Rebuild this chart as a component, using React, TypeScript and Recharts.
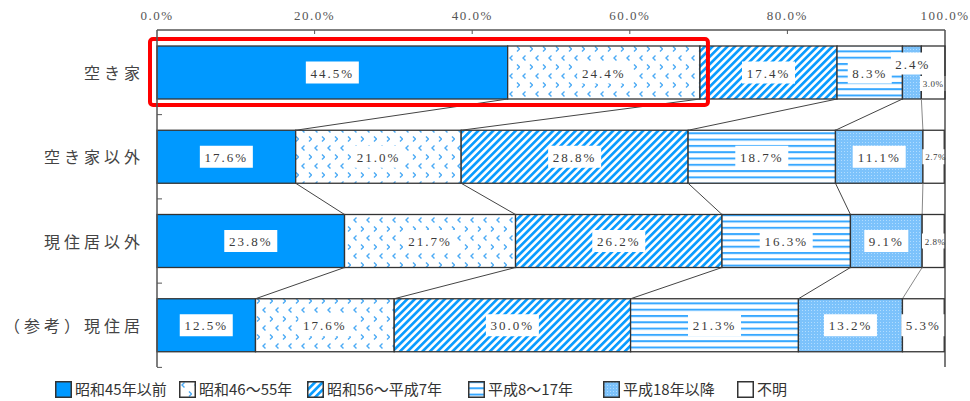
import React from 'react';
import { BarChart, Bar, XAxis, YAxis, ReferenceLine } from 'recharts';

// 建築時期別の割合 (%)
const categories = ['空き家', '空き家以外', '現住居以外', '（参考）現住居'];
const seriesNames = ['昭和45年以前', '昭和46～55年', '昭和56～平成7年', '平成8～17年', '平成18年以降', '不明'];
const showa45 = [44.5, 17.6, 23.8, 12.5];
const showa46 = [24.4, 21.0, 21.7, 17.6];
const showa56 = [17.4, 28.8, 26.2, 30.0];
const heisei8 = [8.3, 18.7, 16.3, 21.3];
const heisei18 = [2.4, 11.1, 9.1, 13.2];
const unknown = [3.0, 2.7, 2.8, 5.3];
const xTicks = [0, 20, 40, 60, 80, 100];

const seriesValues = [showa45, showa46, showa56, heisei8, heisei18, unknown];
const keys = ['s0', 's1', 's2', 's3', 's4', 's5'];
const fills = ['#0099ff', 'url(#pt46)', 'url(#pt56)', 'url(#ptH8)', 'url(#ptH18)', '#ffffff'];

const data = categories.map((name, i) => {
  const row: any = { name };
  keys.forEach((k, j) => (row[k] = seriesValues[j][i]));
  return row;
});

const CHART_W = 970;
const CHART_H = 372;
const MARGIN = { top: 0, right: 25, bottom: 5, left: 0 };
const X_AXIS_H = 30;
const PLOT_TOP = MARGIN.top + X_AXIS_H;
const PLOT_BOTTOM = CHART_H - MARGIN.bottom;
const BAND = (PLOT_BOTTOM - PLOT_TOP) / categories.length;
const BAR_SIZE = 53;

// legend item left edges (layout only)
const legendLefts = [55, 179, 307, 468, 603, 737];

// label tweaks for the narrow segments (row-series)
const labelTweaks: Record<string, { dx?: number; dy?: number; small?: boolean }> = {
  '0-4': { dx: 1, dy: -9 },
  '0-5': { dx: 0, dy: 11, small: true },
  '1-5': { dx: 2, small: true },
  '2-5': { dx: 2, small: true },
};

const EDGE = '#333';
const numFont = '"Liberation Serif", "DejaVu Serif", serif';
const jpFont = '"Noto Sans CJK JP", "Noto Sans", sans-serif';

const Segment = (props: any) => {
  const { x, y, width, height, fill } = props;
  return <rect x={x} y={y} width={width} height={height} fill={fill} stroke={EDGE} strokeWidth={1.3} />;
};

const ValueLabel = ({ cx, cy, text, small }: any) => {
  const w = small ? text.length * 5.6 + 4 : text.length * 9 + 8;
  const h = small ? 15 : 22;
  return (
    <g>
      <rect x={cx - w / 2} y={cy - h / 2} width={w} height={h} fill="#fff" />
      <text
        x={cx}
        y={cy + 0.5}
        textAnchor="middle"
        dominantBaseline="central"
        fontFamily={numFont}
        fontSize={small ? 9 : 13}
        letterSpacing={small ? 0.5 : 2}
        fill="#3a3a3a"
      >
        {text}
      </text>
    </g>
  );
};

// last series: draws its own rect plus the row's labels, connectors and the highlight box
const LastSegment = (props: any) => {
  const { x, y, width, height, index } = props;
  const vals = seriesValues.map((s) => s[index]);
  const ppu = width / vals[5];
  const cum: number[] = [];
  vals.reduce((acc, v) => {
    cum.push(acc + v);
    return acc + v;
  }, 0);
  const x0 = x - cum[4] * ppu;
  const gap = BAND - height;
  const next = index < categories.length - 1 ? seriesValues.map((s) => s[index + 1]) : null;
  const cumNext: number[] = [];
  if (next) {
    next.reduce((acc, v) => {
      cumNext.push(acc + v);
      return acc + v;
    }, 0);
  }
  return (
    <g>
      <rect x={x} y={y} width={width} height={height} fill="#fff" stroke={EDGE} strokeWidth={1.3} />
      <line x1={x0} x2={x0 + 5} y1={y + height + gap / 2} y2={y + height + gap / 2} stroke="#555" strokeWidth={1} />
      {next &&
        cum.slice(0, 5).map((c, k) => (
          <line
            key={k}
            x1={x0 + c * ppu}
            y1={y + height}
            x2={x0 + cumNext[k] * ppu}
            y2={y + BAND}
            stroke={k === 4 ? '#888' : '#444'}
            strokeWidth={1}
          />
        ))}
      {vals.map((v, k) => {
        const t = labelTweaks[`${index}-${k}`] || {};
        const cx = x0 + (cum[k] - v / 2) * ppu + (t.dx || 0);
        const cy = y + height / 2 + (t.dy || 0);
        return <ValueLabel key={k} cx={cx} cy={cy} text={`${v.toFixed(1)}%`} small={t.small} />;
      })}
      {index === 0 && (
        <rect
          x={x0 - 7}
          y={y - 7}
          width={cum[1] * ppu + 15}
          height={height + 13}
          rx={3}
          fill="none"
          stroke="#ff0000"
          strokeWidth={4}
        />
      )}
    </g>
  );
};

const XTick = (props: any) => {
  const { x, payload } = props;
  return (
    <g>
      <text
        x={x}
        y={15}
        textAnchor="middle"
        dominantBaseline="central"
        fontFamily={numFont}
        fontSize={13}
        letterSpacing={1.5}
        fill="#555"
      >
        {`${payload.value.toFixed(1)}%`}
      </text>
      {payload.value > 0 && payload.value < 100 && (
        <line x1={x} x2={x} y1={PLOT_TOP} y2={PLOT_TOP + 4} stroke="#555" strokeWidth={1} />
      )}
    </g>
  );
};

const YTick = (props: any) => {
  const { y, payload } = props;
  return (
    <text
      x={144}
      y={y}
      textAnchor="end"
      dominantBaseline="central"
      fontFamily={jpFont}
      fontSize={16}
      letterSpacing={4}
      fill="#444"
    >
      {payload.value}
    </text>
  );
};

const Patterns = () => (
  <svg width={0} height={0} style={{ position: 'absolute' }}>
    <defs>
      <pattern id="pt46" patternUnits="userSpaceOnUse" width={13} height={18}>
        <rect width={13} height={18} fill="#fff" />
        <path d="M5.5,1.5 L3,4 L5.5,6.5" fill="none" stroke="#4aaaf5" strokeWidth={1.4} />
        <path d="M10,10.5 L12.5,13 L10,15.5" fill="none" stroke="#4aaaf5" strokeWidth={1.4} />
      </pattern>
      <pattern id="pt56" patternUnits="userSpaceOnUse" width={5.3} height={5.3} patternTransform="rotate(45)">
        <rect width={5.3} height={5.3} fill="#fff" />
        <rect width={2.7} height={5.3} fill="#0a9cff" />
      </pattern>
      <pattern id="ptH8" patternUnits="userSpaceOnUse" width={8} height={6.3}>
        <rect width={8} height={6.3} fill="#fff" />
        <rect y={0} width={8} height={2} fill="#38a8ff" />
      </pattern>
      <pattern id="ptH18" patternUnits="userSpaceOnUse" width={3} height={3}>
        <rect width={3} height={3} fill="#7cc2fb" />
        <rect x={1} y={1} width={1} height={1} fill="#b0dcff" />
      </pattern>
    </defs>
  </svg>
);

const LegendRow = () => (
  <div style={{ position: 'absolute', left: 0, top: 378, width: 970, height: 22, fontFamily: jpFont, fontSize: 15, color: '#333' }}>
    {seriesNames.map((n, i) => (
      <div
        key={n}
        style={{ position: 'absolute', left: legendLefts[i], top: 0, display: 'flex', alignItems: 'center', whiteSpace: 'nowrap', height: 22 }}
      >
        <svg width={17} height={17} style={{ marginRight: 3, flex: 'none' }}>
          <rect x={0.75} y={0.75} width={15.5} height={15.5} fill={fills[i]} stroke={EDGE} strokeWidth={1.5} />
        </svg>
        <span style={{ lineHeight: '22px' }}>{n}</span>
      </div>
    ))}
  </div>
);

export default function App() {
  return (
    <div style={{ position: 'absolute', left: 0, top: 0, width: 970, height: 401, background: '#fff', overflow: 'hidden' }}>
      <Patterns />
      <BarChart width={CHART_W} height={CHART_H} data={data} layout="vertical" margin={MARGIN}>
        <XAxis
          type="number"
          orientation="top"
          domain={[0, 100]}
          ticks={xTicks}
          height={X_AXIS_H}
          tick={<XTick />}
          tickLine={false}
          axisLine={{ stroke: '#555', strokeWidth: 1.5 }}
          interval={0}
        />
        <YAxis
          type="category"
          dataKey="name"
          width={157}
          tick={<YTick />}
          tickLine={false}
          axisLine={{ stroke: '#555', strokeWidth: 1.5 }}
        />
        {keys.map((k, i) => (
          <Bar
            key={k}
            dataKey={k}
            name={seriesNames[i]}
            stackId="a"
            fill={fills[i]}
            barSize={BAR_SIZE}
            isAnimationActive={false}
            shape={i === keys.length - 1 ? LastSegment : Segment}
          />
        ))}
        <ReferenceLine x={100} stroke={EDGE} strokeWidth={1.3} />
      </BarChart>
      <LegendRow />
    </div>
  );
}
